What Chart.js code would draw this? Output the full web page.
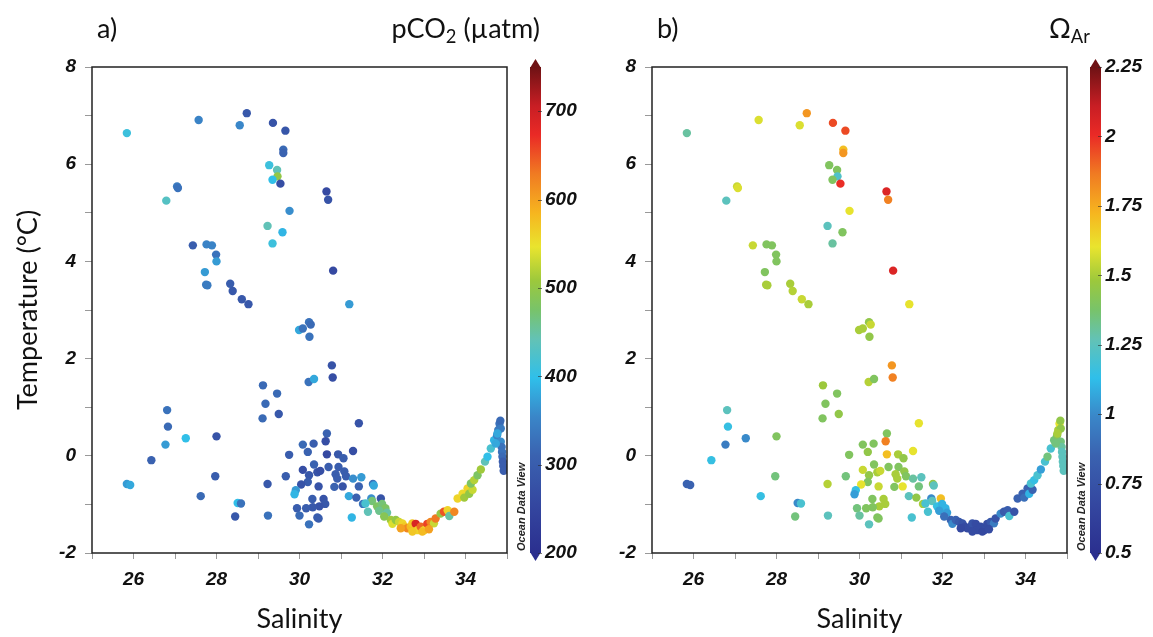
<!DOCTYPE html>
<html>
<head>
<meta charset="utf-8">
<script src="https://cdn.jsdelivr.net/npm/chart.js@4.4.1/dist/chart.umd.min.js"></script>
<style>
  body { margin: 0; background: #fff; width: 1153px; height: 637px; overflow: hidden; position: relative; }
  canvas { position: absolute; top: 0; }
  #chartA { left: 0; }
  #chartB { left: 560px; }
  .hdr { position: absolute; top: 14px; font-family: Lato, sans-serif; font-size: 27px; color: #111; line-height: 1; white-space: nowrap; }
  .hdr sub { font-size: 0.68em; vertical-align: -0.28em; line-height: 0; }
</style>
</head>
<body>
<canvas id="chartA" width="593" height="637"></canvas>
<canvas id="chartB" width="593" height="637"></canvas>
<div class="hdr" style="left:97px">a)</div>
<div class="hdr" style="right:613px">pCO<sub>2</sub> (µatm)</div>
<div class="hdr" style="left:657px">b)</div>
<div class="hdr" style="left:1049px">Ω<sub>Ar</sub></div>
<script>
// Station values (same stations in a and b)
const salinity = [
  // upper part of the profile
  25.84, 27.57, 28.56, 28.73, 29.36, 29.66, 29.61, 29.61, 29.27, 29.46, 29.47, 29.35, 29.54, 27.05, 27.07, 26.79, 30.65, 30.69,
  29.76, 29.23, 29.59, 29.35, 27.43, 27.76, 27.89, 27.99, 28.00, 27.72, 27.75, 27.78, 30.81, 28.33, 28.39, 28.61, 28.77, 31.20,
  // middle
  29.99, 30.08, 30.23, 30.27, 30.24, 30.78, 30.80, 30.22, 30.35, 29.12, 29.46, 29.18, 29.11, 29.50, 26.81, 26.83, 27.26, 26.77,
  28.00, 26.43, 25.84, 25.92, 27.97, 27.62, 28.51, 28.59, 28.45, 29.23, 29.24,
  // cluster near 30-31.5
  30.66, 30.63, 30.08, 30.34, 30.20, 30.66, 30.93, 31.06, 31.29, 31.43, 29.75, 30.35, 30.08, 30.23, 30.43, 30.50, 30.70, 30.94,
  31.08, 29.67, 30.20, 30.04, 30.46, 30.87, 30.91, 30.84, 31.04, 31.12, 31.29, 31.43, 31.49, 31.77, 31.79, 29.91, 29.88, 30.31,
  30.58, 30.62, 30.48, 30.32, 30.16, 29.94, 30.00, 30.43, 30.46, 30.23, 31.19, 31.26, 31.37, 31.53,
  // the curve towards 35
  31.96, 31.73, 31.75, 31.87, 31.99, 32.07, 31.92, 32.11, 32.20, 32.24, 32.32, 32.40, 32.48, 32.54, 32.60, 32.68, 32.72, 32.80,
  32.84, 32.92, 33.00, 33.08, 33.16, 33.24, 33.28, 33.40, 33.48, 33.57, 33.61, 33.73, 33.81, 33.93, 33.97, 34.05, 34.09, 34.17,
  34.13, 34.21, 34.29, 34.37, 34.47, 34.53, 34.61, 34.69, 34.76, 34.79, 34.82, 34.84, 34.85, 34.85, 34.87, 34.88, 34.89, 34.90,
  34.91, 34.92, 34.77, 34.73, 32.44, 32.72, 32.96, 33.12, 32.04, 31.59, 31.65
];
const temperature = [
  6.64, 6.91, 6.80, 7.05, 6.85, 6.69, 6.30, 6.23, 5.98, 5.88, 5.75, 5.68, 5.60, 5.54, 5.51, 5.25, 5.44, 5.27,
  5.04, 4.73, 4.60, 4.37, 4.33, 4.35, 4.33, 4.14, 4.00, 3.78, 3.52, 3.51, 3.81, 3.54, 3.39, 3.22, 3.12, 3.12,
  2.59, 2.62, 2.75, 2.70, 2.45, 1.86, 1.61, 1.52, 1.58, 1.45, 1.28, 1.07, 0.77, 0.86, 0.94, 0.60, 0.36, 0.23,
  0.40, -0.09, -0.58, -0.60, -0.42, -0.83, -0.97, -0.98, -1.25, -0.58, -1.23,
  0.46, 0.30, 0.23, 0.25, 0.08, 0.03, 0.03, -0.05, 0.10, 0.67, 0.02, -0.18, -0.29, -0.40, -0.34, -0.31, -0.23, -0.23,
  -0.32, -0.42, -0.54, -0.59, -0.63, -0.38, -0.47, -0.64, -0.63, -0.42, -0.47, -0.63, -0.44, -0.58, -0.61, -0.71, -0.79, -0.89,
  -0.89, -0.99, -1.04, -1.06, -1.08, -1.08, -1.23, -1.27, -1.29, -1.41, -0.83, -1.27, -0.86, -0.99,
  -0.88, -0.88, -0.93, -1.04, -0.99, -1.08, -1.13, -1.17, -1.32, -1.40, -1.32, -1.36, -1.39, -1.46, -1.49, -1.46, -1.39, -1.40,
  -1.53, -1.46, -1.53, -1.40, -1.36, -1.39, -1.29, -1.19, -1.15, -1.12, -1.24, -1.15, -0.88, -0.78, -0.86, -0.67, -0.78, -0.70,
  -0.57, -0.50, -0.40, -0.28, -0.12, -0.02, 0.15, 0.32, 0.42, 0.53, 0.66, 0.72, 0.56, 0.29, 0.18, 0.08, -0.02, -0.12,
  -0.21, -0.31, 0.46, 0.25, -1.49, -1.56, -1.56, -1.51, -1.25, -0.98, -1.15
];
const pco2 = [
  410, 350, 355, 290, 280, 285, 320, 310, 410, 440, 500, 400, 270, 340, 330, 430, 260, 280,
  360, 440, 390, 410, 300, 350, 350, 330, 370, 370, 340, 340, 260, 300, 290, 290, 290, 370,
  380, 330, 330, 320, 330, 280, 270, 330, 380, 320, 320, 320, 320, 290, 330, 320, 400, 370,
  280, 310, 370, 380, 300, 320, 400, 330, 290, 290, 330,
  310, 270, 320, 300, 310, 260, 290, 300, 270, 280, 300, 310, 270, 290, 280, 270, 300, 300,
  300, 300, 300, 280, 280, 300, 300, 310, 280, 300, 360, 310, 370, 330, 380, 370, 390, 300,
  280, 290, 280, 290, 300, 300, 320, 300, 300, 330, 380, 390, 310, 330,
  280, 360, 470, 480, 470, 480, 460, 450, 510, 540, 500, 530, 560, 570, 620, 580, 570, 690,
  560, 640, 560, 660, 620, 530, 630, 500, 650, 560, 450, 620, 560, 555, 510, 560, 500, 530,
  480, 520, 480, 510, 440, 400, 420, 390, 350, 340, 330, 320, 340, 360, 330, 330, 320, 300,
  300, 300, 380, 380, 600, 570, 580, 600, 490, 420, 440
];
const omega = [
  1.30, 1.58, 1.58, 1.80, 1.95, 1.95, 1.70, 1.80, 1.40, 1.40, 1.22, 1.40, 2.00, 1.55, 1.58, 1.25, 2.05, 1.85,
  1.60, 1.25, 1.40, 1.30, 1.55, 1.40, 1.40, 1.40, 1.40, 1.40, 1.50, 1.50, 2.05, 1.50, 1.52, 1.55, 1.50, 1.60,
  1.50, 1.50, 1.45, 1.55, 1.45, 1.80, 1.85, 1.52, 1.40, 1.48, 1.40, 1.40, 1.40, 1.45, 1.25, 1.15, 1.00, 0.95,
  1.40, 1.15, 0.85, 0.85, 1.35, 1.15, 1.00, 1.20, 1.35, 1.52, 1.25,
  1.40, 1.85, 1.40, 1.40, 1.45, 1.70, 1.50, 1.45, 1.60, 1.60, 1.40, 1.40, 1.55, 1.45, 1.50, 1.55, 1.40, 1.40,
  1.45, 1.35, 1.40, 1.60, 1.55, 1.50, 1.50, 1.40, 1.60, 1.40, 1.30, 1.35, 1.25, 1.45, 1.25, 1.15, 1.05, 1.40,
  1.50, 1.50, 1.50, 1.40, 1.40, 1.35, 1.30, 1.40, 1.40, 1.25, 1.25, 1.20, 1.45, 1.50,
  1.70, 1.00, 1.25, 1.15, 1.10, 1.10, 1.05, 1.05, 0.85, 1.00, 0.85, 0.80, 0.75, 0.70, 0.70, 0.70, 0.75, 0.70,
  0.70, 0.70, 0.72, 0.70, 0.78, 0.95, 0.75, 1.00, 0.80, 0.82, 1.20, 0.75, 0.85, 0.85, 0.90, 0.85, 1.10, 0.85,
  1.20, 1.15, 1.20, 1.05, 1.20, 1.35, 1.20, 1.35, 1.40, 1.50, 1.60, 1.45, 1.45, 1.35, 1.30, 1.25, 1.25, 1.25,
  1.25, 1.25, 1.50, 1.35, 0.68, 0.70, 0.68, 0.70, 0.90, 1.20, 1.20
];

// Axis ticks
const salinityLabels = [26, 28, 30, 32, 34];
const temperatureLabels = [-2, 0, 2, 4, 6, 8];
const pco2Ticks = [200, 300, 400, 500, 600, 700];
const omegaTicks = [0.5, 0.75, 1, 1.25, 1.5, 1.75, 2, 2.25];

// ODV-like colour map
const cmapStops = [
  [0.00, '#2b2f8f'], [0.10, '#3447a0'], [0.20, '#3a62b0'], [0.28, '#3a86c8'], [0.36, '#2fbfea'],
  [0.44, '#63c2b5'], [0.50, '#78c36a'], [0.56, '#9cc83c'], [0.63, '#e9e42e'], [0.70, '#f6b51f'],
  [0.78, '#f07b22'], [0.86, '#ea2a26'], [0.92, '#c81e24'], [1.00, '#6e1214']
];

function hexToRgb(h) {
  return [parseInt(h.slice(1, 3), 16), parseInt(h.slice(3, 5), 16), parseInt(h.slice(5, 7), 16)];
}

function cmap(t) {
  t = Math.max(0, Math.min(1, t));
  for (let i = 1; i < cmapStops.length; i++) {
    if (t <= cmapStops[i][0]) {
      const [t0, c0] = cmapStops[i - 1];
      const [t1, c1] = cmapStops[i];
      const f = (t - t0) / (t1 - t0);
      const a = hexToRgb(c0), b = hexToRgb(c1);
      return 'rgb(' + a.map((v, k) => Math.round(v + (b[k] - v) * f)).join(',') + ')';
    }
  }
  return cmapStops[cmapStops.length - 1][1];
}

const tickFont = { family: '"Liberation Sans", Arial, sans-serif', size: 19, weight: 'bold', style: 'italic' };
const titleFont = { family: 'Lato, sans-serif', size: 27 };

// Frame, colour bar and the ODV stamp
const decorPlugin = {
  id: 'decor',
  afterDraw(chart) {
    const { ctx, chartArea: a } = chart;
    const cb = chart.scales.cb;
    ctx.save();
    ctx.strokeStyle = '#222';
    ctx.lineWidth = 1.5;
    ctx.strokeRect(a.left, a.top, a.right - a.left, a.bottom - a.top);

    const x0 = a.right + 23, w = 11;
    const yLo = cb.getPixelForValue(cb.min), yHi = cb.getPixelForValue(cb.max);
    const g = ctx.createLinearGradient(0, yLo, 0, yHi);
    cmapStops.forEach(([t, c]) => g.addColorStop(t, c));
    ctx.fillStyle = g;
    ctx.fillRect(x0, yHi, w, yLo - yHi);
    // end arrows
    ctx.fillStyle = cmapStops[cmapStops.length - 1][1];
    ctx.beginPath();
    ctx.moveTo(x0, yHi + 1); ctx.lineTo(x0 + w / 2, yHi - 8); ctx.lineTo(x0 + w, yHi + 1);
    ctx.fill();
    ctx.fillStyle = cmapStops[0][1];
    ctx.beginPath();
    ctx.moveTo(x0, yLo - 1); ctx.lineTo(x0 + w / 2, yLo + 8); ctx.lineTo(x0 + w, yLo - 1);
    ctx.fill();
    // small tick dashes on the bar
    ctx.strokeStyle = 'rgba(40,40,40,0.6)';
    ctx.lineWidth = 1;
    cb.ticks.forEach(t => {
      const y = Math.round(cb.getPixelForValue(t.value)) + 0.5;
      ctx.beginPath(); ctx.moveTo(x0 + w - 3, y); ctx.lineTo(x0 + w + 1, y); ctx.stroke();
    });

    ctx.translate(a.right + 15, a.bottom - 2);
    ctx.rotate(-Math.PI / 2);
    ctx.font = 'bold italic 11px "Liberation Sans", Arial, sans-serif';
    ctx.fillStyle = '#222';
    ctx.textAlign = 'left';
    ctx.textBaseline = 'middle';
    ctx.fillText('Ocean Data View', 0, 0);
    ctx.restore();
  }
};

function makePanel(canvasId, values, vMin, vMax, cbTicks, showYTitle) {
  const points = salinity.map((s, i) => ({ x: s, y: temperature[i], v: values[i] }));
  const ctx = document.getElementById(canvasId).getContext('2d');
  return new Chart(ctx, {
    type: 'scatter',
    data: {
      datasets: [{
        data: points,
        pointRadius: 4.2,
        pointBorderWidth: 0,
        pointBackgroundColor: c => cmap((c.raw.v - vMin) / (vMax - vMin)),
      }],
    },
    options: {
      responsive: false,
      animation: false,
      layout: { padding: { top: 67, left: 0, right: 0, bottom: 0 } },
      plugins: { legend: { display: false }, tooltip: { enabled: false } },
      scales: {
        x: {
          type: 'linear', min: 25, max: 35,
          ticks: {
            stepSize: 1, autoSkip: false, maxRotation: 0, padding: 9, color: '#111', font: tickFont,
            callback: v => salinityLabels.includes(v) ? String(v) : '',
          },
          grid: { drawOnChartArea: false, tickLength: 6, color: '#999' },
          border: { display: false },
          title: { display: true, text: 'Salinity', color: '#111', font: titleFont, padding: { top: 0, bottom: 2 } },
          afterFit: s => { s.height = 84; },
        },
        y: {
          type: 'linear', position: 'left', min: -2, max: 8,
          ticks: {
            stepSize: 1, autoSkip: false, padding: 9, color: '#111', font: tickFont,
            callback: v => temperatureLabels.includes(v) ? String(v) : '',
          },
          grid: { drawOnChartArea: false, tickLength: 7, color: '#999' },
          border: { display: false },
          title: { display: showYTitle, text: 'Temperature (°C)', color: '#111', font: titleFont, padding: { top: 12, bottom: 0 } },
          afterFit: s => { s.width = 92; },
        },
        cb: {
          type: 'linear', position: 'right', min: vMin, max: vMax,
          afterBuildTicks: s => { s.ticks = cbTicks.map(v => ({ value: v })); },
          ticks: { padding: 38, color: '#111', font: tickFont, callback: v => String(+v.toFixed(2)) },
          grid: { display: false, drawTicks: false },
          border: { display: false },
          afterFit: s => { s.width = 86; },
        },
      },
    },
    plugins: [decorPlugin],
  });
}

makePanel('chartA', pco2, 200, 750, pco2Ticks, true);
makePanel('chartB', omega, 0.5, 2.25, omegaTicks, false);
</script>
</body>
</html>
